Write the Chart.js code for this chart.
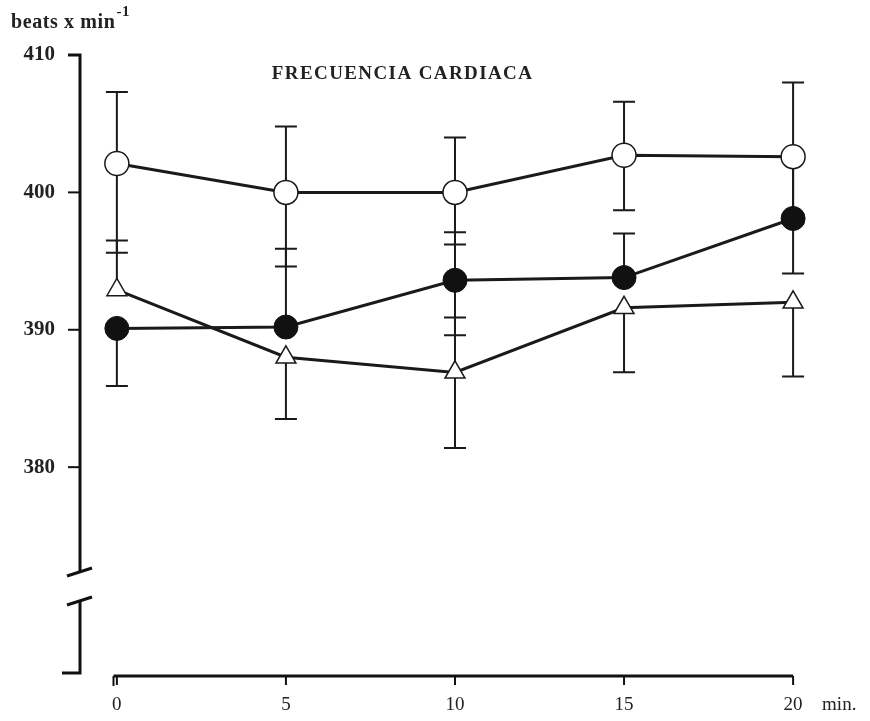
<!DOCTYPE html>
<html>
<head>
  <title>Frecuencia cardiaca</title>
  <script src="https://cdn.jsdelivr.net/npm/chart.js"></script>
  <style>
    body {
      margin: 0;
      background: #fff;
    }

    .chart-container {
      width: 870px;
      height: 721px;
    }

    canvas {
      display: block;
    }
  </style>
</head>
<body>

  <div class="chart-container">
    <canvas id="myChart" width="870" height="721"></canvas>
  </div>

  <script>
    // Datos (minutos / latidos por minuto)
    var times = [0, 5, 10, 15, 20];
    var xTicks = [0, 5, 10, 15, 20];
    var yTicks = [380, 390, 400, 410];

    // Circulo blanco
    var openVals = [402.1, 400.0, 400.0, 402.7, 402.6];
    var openHi = [407.3, 404.8, 404.0, 406.6, 408.0];
    var openLo = [395.6, 394.6, 396.2, 398.7, 397.7];

    // Circulo negro
    var fillVals = [390.1, 390.2, 393.6, 393.8, 398.1];
    var fillHi = [null, 395.9, 397.1, 397.0, 402.4];
    var fillLo = [385.9, null, 389.6, null, 394.1];

    // Triangulo
    var triVals = [392.9, 388.0, 386.9, 391.6, 392.0];
    var triHi = [396.5, null, 390.9, null, null];
    var triLo = [null, 383.5, 381.4, 386.9, 386.6];

    var serif = "'Liberation Serif', 'DejaVu Serif', serif";

    function toPoints(vals) {
      return times.map(function(t, i) { return { x: t, y: vals[i] }; });
    }

    var data = {
      datasets: [{
        label: 'open',
        data: toPoints(openVals),
        hi: openHi, lo: openLo,
        borderColor: '#1a1a1a',
        borderWidth: 3,
        pointStyle: 'circle',
        pointRadius: 12,
        pointBackgroundColor: '#fff',
        pointBorderColor: '#1a1a1a',
        pointBorderWidth: 1.5
      },
      {
        label: 'filled',
        data: toPoints(fillVals),
        hi: fillHi, lo: fillLo,
        borderColor: '#1a1a1a',
        borderWidth: 3,
        pointStyle: 'circle',
        pointRadius: 12,
        pointBackgroundColor: '#111',
        pointBorderColor: '#111',
        pointBorderWidth: 1
      },
      {
        label: 'triangle',
        data: toPoints(triVals),
        hi: triHi, lo: triLo,
        borderColor: '#1a1a1a',
        borderWidth: 3,
        pointStyle: 'triangle',
        pointRadius: 11.5,
        pointBackgroundColor: '#fff',
        pointBorderColor: '#1a1a1a',
        pointBorderWidth: 1.5
      }]
    };

    // Barras de error, ejes con corte y textos
    var decor = {
      id: 'decor',
      beforeDatasetsDraw: function(chart) {
        var ctx = chart.ctx, xs = chart.scales.x, ys = chart.scales.y;
        ctx.save();
        ctx.strokeStyle = '#1a1a1a';
        ctx.lineWidth = 2;
        chart.data.datasets.forEach(function(ds) {
          ds.data.forEach(function(p, i) {
            var px = xs.getPixelForValue(p.x);
            var py = ys.getPixelForValue(p.y);
            [ds.hi[i], ds.lo[i]].forEach(function(v) {
              if (v === null) return;
              var ey = ys.getPixelForValue(v);
              ctx.beginPath();
              ctx.moveTo(px, py);
              ctx.lineTo(px, ey);
              ctx.moveTo(px - 11, ey);
              ctx.lineTo(px + 11, ey);
              ctx.stroke();
            });
          });
        });
        ctx.restore();
      },
      afterDraw: function(chart) {
        var ctx = chart.ctx, xs = chart.scales.x, ys = chart.scales.y;
        var ax = chart.chartArea.left + 1;
        var bottom = chart.chartArea.bottom;
        ctx.save();
        ctx.strokeStyle = '#111';
        ctx.lineWidth = 3;
        ctx.lineCap = 'butt';

        // eje y, tramo superior
        var yTop = ys.getPixelForValue(410);
        ctx.beginPath();
        ctx.moveTo(ax - 12, yTop);
        ctx.lineTo(ax, yTop);
        ctx.lineTo(ax, 572);
        ctx.stroke();
        ctx.beginPath();
        ctx.moveTo(ax - 13, 576);
        ctx.lineTo(ax + 12, 568);
        ctx.stroke();
        // corte y tramo inferior
        ctx.beginPath();
        ctx.moveTo(ax - 13, 605);
        ctx.lineTo(ax + 12, 597);
        ctx.stroke();
        ctx.beginPath();
        ctx.moveTo(ax, 600);
        ctx.lineTo(ax, bottom - 3);
        ctx.lineTo(ax - 18, bottom - 3);
        ctx.stroke();

        // marcas del eje y
        ctx.lineWidth = 2;
        yTicks.forEach(function(v) {
          var ty = ys.getPixelForValue(v);
          ctx.beginPath();
          ctx.moveTo(ax - 12, ty);
          ctx.lineTo(ax, ty);
          ctx.stroke();
        });

        // eje x
        var x0 = xs.getPixelForValue(-0.1);
        var x1 = xs.getPixelForValue(20);
        ctx.lineWidth = 3;
        ctx.beginPath();
        ctx.moveTo(x0, bottom);
        ctx.lineTo(x1, bottom);
        ctx.stroke();
        ctx.lineWidth = 2;
        ctx.beginPath();
        ctx.moveTo(x0, bottom);
        ctx.lineTo(x0, bottom + 10);
        ctx.stroke();
        xTicks.forEach(function(v) {
          var tx = xs.getPixelForValue(v);
          ctx.beginPath();
          ctx.moveTo(tx, bottom);
          ctx.lineTo(tx, bottom + 9);
          ctx.stroke();
        });

        // textos
        ctx.fillStyle = '#222';
        ctx.textBaseline = 'middle';
        ctx.textAlign = 'left';
        ctx.font = '19px ' + serif;
        ctx.fillText('min.', xs.getPixelForValue(20) + 29, bottom + 29);

        ctx.font = 'bold 20px ' + serif;
        ctx.letterSpacing = '0.6px';
        ctx.fillText('beats x min', 11, 23);
        var w = ctx.measureText('beats x min').width;
        ctx.font = 'bold 15px ' + serif;
        ctx.fillText('-1', 11 + w + 1, 12);

        ctx.font = 'bold 19px ' + serif;
        ctx.textAlign = 'center';
        ctx.letterSpacing = '1.4px';
        ctx.fillText('FRECUENCIA CARDIACA', xs.getPixelForValue(8.45), 74);
        ctx.restore();
      }
    };

    var options = {
      responsive: false,
      animation: false,
      layout: {
        padding: { top: 55, right: 60, bottom: 0, left: 0 }
      },
      scales: {
        x: {
          type: 'linear',
          min: -1.12,
          max: 20.5,
          grid: { display: false, drawTicks: false },
          border: { display: false },
          afterBuildTicks: function(s) {
            s.ticks = xTicks.map(function(v) { return { value: v }; });
          },
          afterFit: function(s) { s.height = 45; },
          ticks: {
            padding: 18,
            color: '#222',
            font: { family: serif, size: 19 }
          }
        },
        y: {
          min: 364.8,
          max: 410,
          grid: { display: false, drawTicks: false },
          border: { display: false },
          afterBuildTicks: function(s) {
            s.ticks = yTicks.map(function(v) { return { value: v }; });
          },
          afterFit: function(s) { s.width = 79; },
          ticks: {
            padding: 24,
            color: '#222',
            font: { family: serif, size: 21, weight: 'bold' }
          }
        }
      },
      plugins: {
        legend: { display: false },
        tooltip: { enabled: false }
      }
    };

    var ctx = document.getElementById('myChart').getContext('2d');
    var myChart = new Chart(ctx, {
      type: 'line',
      data: data,
      options: options,
      plugins: [decor]
    });
  </script>

</body>
</html>
